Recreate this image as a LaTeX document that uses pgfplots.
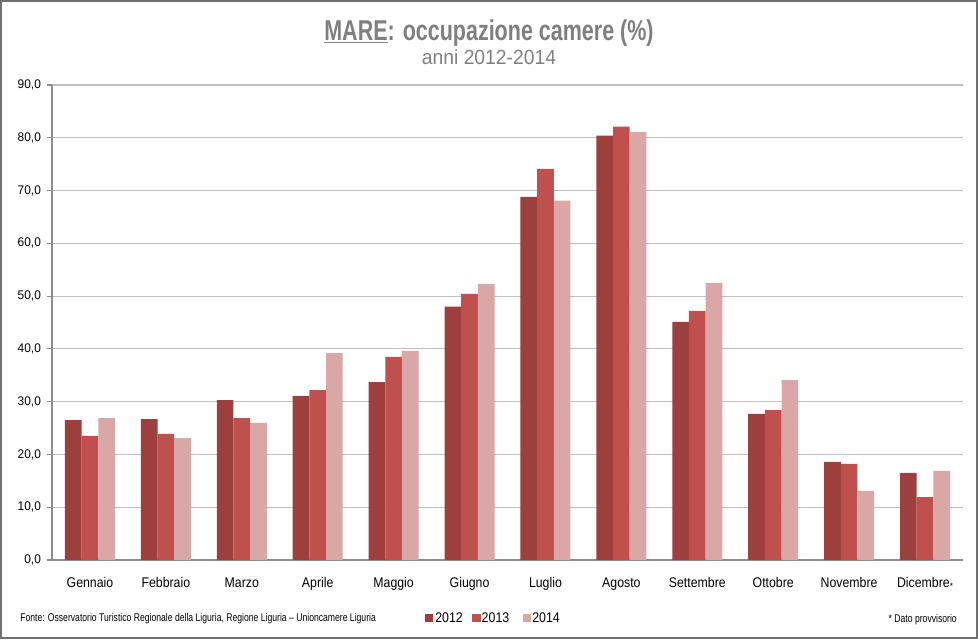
\documentclass[border=0pt]{standalone}
\usepackage{fontspec}
\setmainfont{Liberation Sans}[FakeStretch=0.88]
\newfontfamily\fTitle{Liberation Sans}[FakeStretch=0.75]
\newfontfamily\fSub{Liberation Sans}[FakeStretch=0.94]
\newfontfamily\fTick{Liberation Sans}[FakeStretch=0.95]
\newfontfamily\fLeg{Liberation Sans}[FakeStretch=0.885]
\newfontfamily\fSrc{Liberation Sans}[FakeStretch=0.77]
\usepackage{pgfplots}
\pgfplotsset{compat=1.18}
\definecolor{cA}{HTML}{9C3F3D}
\definecolor{cB}{HTML}{C0504D}
\definecolor{cC}{HTML}{D9A7A6}
\definecolor{gridc}{HTML}{BEBEBE}
\definecolor{axc}{HTML}{8C8C8C}
\definecolor{titc}{HTML}{7F7F7F}
\begin{document}
\begin{tikzpicture}
\draw[draw=none] (0,0) rectangle (733.5pt,479.25pt);
\begin{axis}[
  at={(39pt,59.25pt)}, anchor=south west,
  scale only axis, width=683.25pt, height=356.25pt,
  ybar=0pt, bar width=12.5pt,
  xmin=-0.5, xmax=11.5, ymin=0, ymax=90,
  axis x line*=bottom, axis y line*=left,
  axis line style={axc, line width=0.8pt, -},
  xtick={0,...,11},
  xticklabels={Gennaio,Febbraio,Marzo,Aprile,Maggio,Giugno,Luglio,Agosto,Settembre,Ottobre,Novembre,Dicembre\raisebox{-1.8pt}{\scriptsize*}},
  x tick label style={font=\fontsize{10.5pt}{12pt}\selectfont, anchor=base, yshift=-16.6pt},
  major x tick style={draw=none},
  extra x ticks={-0.5,0.5,...,11.5},
  extra x tick labels={},
  extra x tick style={major tick length=4pt, tick style={axc, line width=0.8pt}, tick align=outside, grid=none},
  ytick={0,10,...,90},
  ymajorgrids, grid style={gridc, line width=0.8pt},
  y tick style={axc, line width=0.8pt},
  tick align=outside, major tick length=4pt,
  y tick label style={font=\fTick\fontsize{9.4pt}{11pt}\selectfont, xshift=-0.8pt},
  yticklabel={\pgfmathprintnumber[fixed, fixed zerofill, precision=1, use comma, assume math mode=true]{\tick}},
  clip=false,
]
\addplot[fill=cA, draw=none] coordinates {(0,26.5) (1,26.7) (2,30.3) (3,31.1) (4,33.7) (5,48.0) (6,68.8) (7,80.4) (8,45.1) (9,27.7) (10,18.6) (11,16.5)};
\addplot[fill=cB, draw=none] coordinates {(0,23.5) (1,23.9) (2,26.9) (3,32.2) (4,38.5) (5,50.4) (6,74.1) (7,82.1) (8,47.2) (9,28.4) (10,18.2) (11,11.9)};
\addplot[fill=cC, draw=none] coordinates {(0,26.9) (1,23.1) (2,26.0) (3,39.2) (4,39.6) (5,52.3) (6,68.1) (7,81.1) (8,52.5) (9,34.1) (10,13.1) (11,16.9)};
\end{axis}
\node[anchor=base, text=titc, font=\fTitle\fontsize{21.5pt}{24pt}\selectfont\bfseries] at (366.75pt,448.6pt) {\underline{MARE}: occupazione camere (\%)};
\node[anchor=base, text=titc, font=\fSub\fontsize{15.4pt}{17pt}\selectfont] at (366.75pt,431pt) {anni 2012-2014};
\node[anchor=base west, inner sep=0pt, font=\fSrc\fontsize{8.4pt}{10pt}\selectfont] at (15pt,13.25pt) {Fonte: Osservatorio Turistico Regionale della Liguria, Regione Liguria – Unioncamere Liguria};
\node[anchor=base east, inner sep=0pt, font=\fSrc\fontsize{8.4pt}{10pt}\selectfont] at (717.75pt,12.6pt) {* Dato provvisorio};
\fill[cA] (318.75pt,12.75pt) rectangle (324.75pt,18.75pt);
\node[anchor=base west, inner sep=0pt, font=\fLeg\fontsize{10.5pt}{12pt}\selectfont] at (326.25pt,12.2pt) {2012};
\fill[cB] (354.2pt,12.75pt) rectangle (360.5pt,18.75pt);
\node[anchor=base west, inner sep=0pt, font=\fLeg\fontsize{10.5pt}{12pt}\selectfont] at (361.1pt,12.2pt) {2013};
\fill[cC] (392.5pt,12.75pt) rectangle (398.6pt,18.75pt);
\node[anchor=base west, inner sep=0pt, font=\fLeg\fontsize{10.5pt}{12pt}\selectfont] at (399pt,12.2pt) {2014};
\draw[color=axc!80!black, line width=1.2pt] (0.6pt,0.6pt) rectangle (732.9pt,478.65pt);
\end{tikzpicture}
\end{document}
